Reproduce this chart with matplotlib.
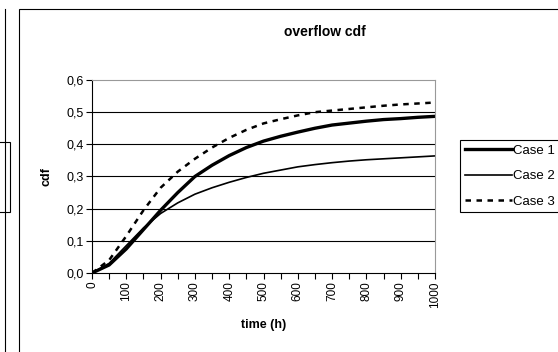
import matplotlib
matplotlib.use('Agg')
import matplotlib.pyplot as plt
from matplotlib.patches import Rectangle
from matplotlib.lines import Line2D
from matplotlib.ticker import MultipleLocator, FuncFormatter

plt.rcParams['font.family'] = ['Liberation Sans', 'DejaVu Sans']

# values
time_h = [0, 50, 100, 150, 200, 250, 300, 350, 400, 450, 500,
          550, 600, 650, 700, 750, 800, 850, 900, 950, 1000]
case1 = [0.0, 0.025, 0.075, 0.135, 0.195, 0.25, 0.30, 0.335, 0.365, 0.39, 0.41,
         0.425, 0.438, 0.45, 0.46, 0.466, 0.472, 0.477, 0.48, 0.484, 0.487]
case2 = [0.0, 0.03, 0.085, 0.14, 0.185, 0.218, 0.245, 0.265, 0.282, 0.297, 0.31,
         0.32, 0.33, 0.337, 0.343, 0.348, 0.352, 0.355, 0.358, 0.361, 0.364]
case3 = [0.0, 0.04, 0.115, 0.195, 0.265, 0.315, 0.355, 0.39, 0.42, 0.445, 0.465,
         0.478, 0.49, 0.50, 0.505, 0.51, 0.515, 0.52, 0.524, 0.527, 0.53]
series_names = ['Case 1', 'Case 2', 'Case 3']

W, H = 558, 352
fig = plt.figure(figsize=(W / 100, H / 100), dpi=100)


def fx(px):
    return px / W


def fy(py):
    return 1 - py / H


# pieces of the neighbouring chart and the chart frame
fig.add_artist(Line2D([fx(5), fx(5)], [fy(9), fy(360)], color='black', lw=0.8))
fig.add_artist(Rectangle((fx(-2), fy(212)), fx(12), (212 - 142) / H,
                         fill=False, edgecolor='black', lw=0.8))
fig.add_artist(Rectangle((fx(19), fy(400)), fx(600), (400 - 9) / H,
                         fill=False, edgecolor='black', lw=0.8))

ax = fig.add_axes([fx(92), fy(273), fx(435 - 92), (273 - 80) / H])
ax.plot(time_h, case1, color='black', lw=2.4, label=series_names[0])
ax.plot(time_h, case2, color='black', lw=1.2, label=series_names[1])
ax.plot(time_h, case3, color='black', lw=1.8, linestyle=(0, (2.2, 2.2)),
        label=series_names[2])

ax.set_xlim(0, 1000)
ax.set_ylim(0, 0.6)
ax.xaxis.set_major_locator(MultipleLocator(100))
ax.xaxis.set_minor_locator(MultipleLocator(50))
ax.yaxis.set_major_locator(MultipleLocator(0.1))
ax.yaxis.set_major_formatter(FuncFormatter(lambda v, p: f'{v:.1f}'.replace('.', ',')))
ax.tick_params(axis='x', which='both', direction='out', length=4, width=0.8,
               labelsize=8.5, labelrotation=90, pad=2, color='black')
ax.tick_params(axis='y', direction='out', length=4, width=0.8, labelsize=9,
               pad=2, color='black')
for tl in ax.get_xticklabels():
    tl.set_va('top')

for v in [0.1, 0.2, 0.3, 0.4, 0.5]:
    ax.axhline(v, color='black', lw=0.8, zorder=0)
ax.spines['top'].set_color('#999999')
ax.spines['right'].set_color('#999999')
ax.spines['left'].set_color('black')
ax.spines['bottom'].set_color('black')
for s in ax.spines.values():
    s.set_linewidth(0.8)

ax.set_xlabel('time (h)', fontsize=9, fontweight='bold', labelpad=8)
ax.set_ylabel('cdf', fontsize=9, fontweight='bold', labelpad=10)
fig.text(fx(325), fy(32), 'overflow cdf', ha='center', va='center',
         fontsize=10, fontweight='bold')

leg = ax.legend(loc='upper left', bbox_to_anchor=(fx(460), fy(140)),
                bbox_transform=fig.transFigure, borderaxespad=0, fancybox=False,
                edgecolor='black', fontsize=9.5, handlelength=3.6,
                handletextpad=0.1, borderpad=0.35, labelspacing=1.0,
                framealpha=1)
leg.get_frame().set_linewidth(0.8)

fig.savefig('out.png', dpi=100)
